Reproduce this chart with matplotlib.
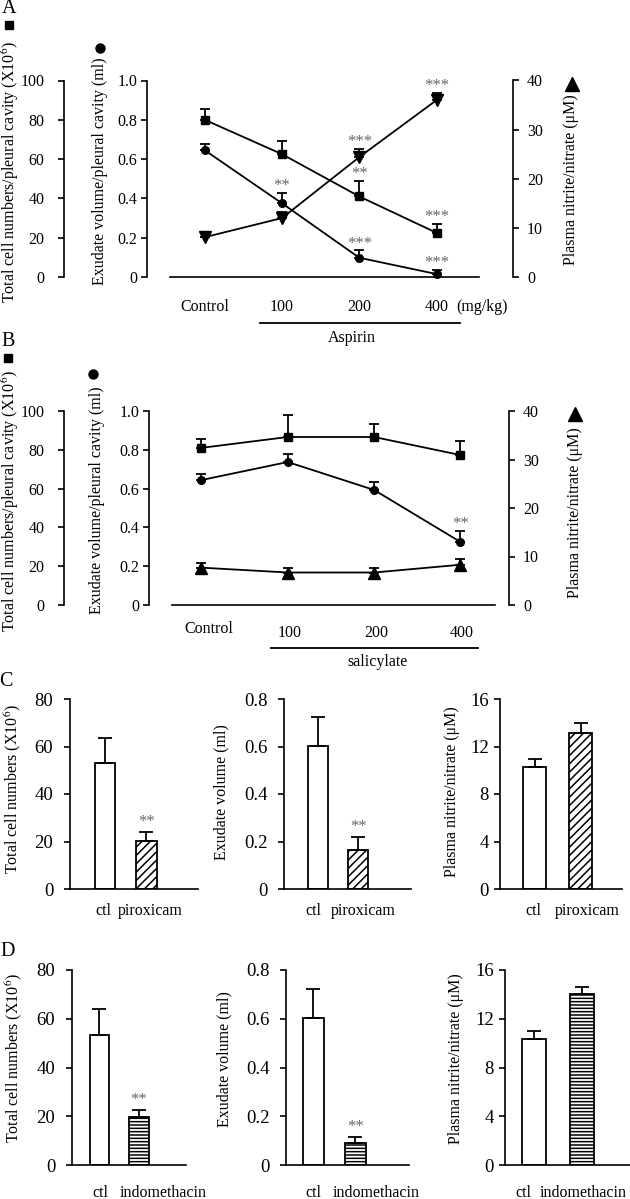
import matplotlib
matplotlib.use('Agg')
import matplotlib.pyplot as plt
from matplotlib.lines import Line2D
import numpy as np

plt.rcParams['font.family'] = ['Liberation Serif', 'DejaVu Serif']
plt.rcParams['mathtext.fontset'] = 'stix'
plt.rcParams['hatch.linewidth'] = 1.1

# ---------------- data ----------------
dose_labels = ['Control', '100', '200', '400']
dose_x = [0, 1, 2, 3]

# Panel A (aspirin)
A_cells = [80.0, 62.5, 41.0, 22.5]
A_cells_err = [5.5, 6.5, 8.0, 4.5]
A_cells_sig = ['', '', '**', '***']
A_exu = [0.645, 0.375, 0.098, 0.015]
A_exu_err = [0.03, 0.055, 0.037, 0.02]
A_exu_sig = ['', '**', '***', '***']
A_no = [8.1, 12.0, 24.4, 36.0]
A_no_err = [0.0, 1.3, 1.7, 1.4]
A_no_sig = ['', '', '***', '***']

# Panel B (salicylate)
B_cells = [81.0, 86.6, 86.6, 77.3]
B_cells_err = [4.6, 11.4, 6.7, 7.2]
B_cells_sig = ['', '', '', '']
B_exu = [0.644, 0.737, 0.593, 0.325]
B_exu_err = [0.031, 0.041, 0.041, 0.056]
B_exu_sig = ['', '', '', '**']
B_no = [7.7, 6.7, 6.7, 8.3]
B_no_err = [1.0, 1.0, 1.0, 1.2]
B_no_sig = ['', '', '', '']

cells_ticks = [0, 20, 40, 60, 80, 100]
exu_ticks = [0, 0.2, 0.4, 0.6, 0.8, 1.0]
exu_ticklabels = ['0', '0.2', '0.4', '0.6', '0.8', '1.0']
no_ticks = [0, 10, 20, 30, 40]

# Panels C (piroxicam) and D (indomethacin)
C_groups = ['ctl', 'piroxicam']
D_groups = ['ctl', 'indomethacin']
C_cells = [53.0, 20.2]
C_cells_err = [10.6, 3.8]
C_exu = [0.602, 0.164]
C_exu_err = [0.122, 0.055]
C_no = [10.27, 13.14]
C_no_err = [0.68, 0.84]
D_cells = [53.3, 19.7]
D_cells_err = [10.7, 2.9]
D_exu = [0.603, 0.09]
D_exu_err = [0.119, 0.025]
D_no = [10.34, 14.03]
D_no_err = [0.66, 0.57]
bar_sig_cells = ['', '**']
bar_sig_exu = ['', '**']
bar_sig_no = ['', '']

bar_cells_ticks = [0, 20, 40, 60, 80]
bar_exu_ticks = [0, 0.2, 0.4, 0.6, 0.8]
bar_exu_ticklabels = ['0', '0.2', '0.4', '0.6', '0.8']
bar_no_ticks = [0, 4, 8, 12, 16]

# ---------------- layout helpers ----------------
W, H = 630, 1199
fig = plt.figure(figsize=(W / 100, H / 100), dpi=100)


def rect(x0, x1, ytop, ybot):
    return [x0 / W, 1 - ybot / H, (x1 - x0) / W, (ybot - ytop) / H]


def fx(x):
    return x / W


def fy(y):
    return 1 - y / H


def ftext(x, y, s, **kw):
    fig.text(fx(x), fy(y), s, **kw)


def fmarker(x, y, m, ms):
    fig.add_artist(Line2D([fx(x)], [fy(y)], marker=m, ms=ms, color='k',
                          transform=fig.transFigure, linestyle='none'))


LW = 1.2
SIG_COLOR = '#666666'
SIG_SIZE = 12
LABEL_SIZE = 11.5


def spine_axis(ax, side, pos, ylim, ticks, labels, pad, labelsize=11.5):
    for s in ax.spines.values():
        s.set_visible(False)
    ax.spines[side].set_visible(True)
    ax.spines[side].set_position(('axes', pos))
    ax.spines[side].set_linewidth(LW)
    ax.set_ylim(*ylim)
    ax.set_yticks(ticks, labels)
    if side == 'right':
        ax.yaxis.tick_right()
    else:
        ax.yaxis.tick_left()
    ax.tick_params(axis='y', direction='out', length=4, width=LW, pad=pad,
                   labelsize=labelsize)
    ax.set_xticks([])
    ax.patch.set_visible(False)


def draw_series(ax, vals, errs, sigs, marker, ms):
    lo = np.zeros(len(vals))
    ax.errorbar(dose_x, vals, yerr=[lo, errs], fmt='-', marker=marker, ms=ms,
                color='k', lw=1.3, elinewidth=1.3, capsize=3.6, capthick=1.3,
                clip_on=False)
    for x, v, e, s in zip(dose_x, vals, errs, sigs):
        if s:
            ax.annotate(s, xy=(x, v + e), xytext=(0, 5), textcoords='offset points',
                        ha='center', va='center', color=SIG_COLOR, fontsize=SIG_SIZE)


def line_panel(r, xlim, pos_cells, pos_exu, pos_no, cells, ce, cs, exu, ee, es,
               no, ne, ns, no_marker):
    ax_c = fig.add_axes(r)
    ax_e = fig.add_axes(r)
    ax_n = fig.add_axes(r)
    spine_axis(ax_c, 'left', pos_cells, (0, 100), cells_ticks,
               [str(t) for t in cells_ticks], pad=10)
    ax_c.spines['bottom'].set_visible(True)
    ax_c.spines['bottom'].set_linewidth(LW)
    spine_axis(ax_e, 'left', pos_exu, (0, 1.0), exu_ticks, exu_ticklabels, pad=3)
    spine_axis(ax_n, 'right', pos_no, (0, 40), no_ticks,
               [str(t) for t in no_ticks], pad=6)
    for a in (ax_c, ax_e, ax_n):
        a.set_xlim(*xlim)
    draw_series(ax_c, cells, ce, cs, 's', 5.5)
    draw_series(ax_e, exu, ee, es, 'o', 5.5)
    draw_series(ax_n, no, ne, ns, no_marker, 8)
    return ax_c


# ---------------- Panel A ----------------
axA = line_panel(rect(170, 479, 80.5, 277), (-0.45, 3.55),
                 (64 - 170) / 309, (147 - 170) / 309, (513 - 170) / 309,
                 A_cells, A_cells_err, A_cells_sig, A_exu, A_exu_err, A_exu_sig,
                 A_no, A_no_err, A_no_sig, 'v')
tA = axA.get_xaxis_transform()
for x, lab in zip(dose_x, dose_labels):
    axA.text(x, -0.155, lab, transform=tA, ha='center', va='center', fontsize=LABEL_SIZE)
axA.text(3.25, -0.155, '(mg/kg)', transform=tA, ha='left', va='center', fontsize=LABEL_SIZE)
axA.plot([0.72, 3.3], [-0.235, -0.235], transform=tA, color='k', lw=1.3, clip_on=False)
axA.text(1.9, -0.31, 'Aspirin', transform=tA, ha='center', va='center', fontsize=LABEL_SIZE)

ftext(9, 8.5, 'A', fontsize=14.5, ha='center', va='center')
fmarker(8.5, 24.5, 's', 6)
fmarker(100, 48, 'o', 6.5)
fmarker(572, 84, '^', 10)
ftext(10, 172, 'Total cell numbers/pleural cavity (X10$^6$)', rotation=90,
      ha='center', va='center', fontsize=LABEL_SIZE)
ftext(100, 171, 'Exudate volume/pleural cavity (ml)', rotation=90,
      ha='center', va='center', fontsize=LABEL_SIZE)
ftext(571, 180, 'Plasma nitrite/nitrate (\u03bcM)', rotation=90,
      ha='center', va='center', fontsize=LABEL_SIZE)

# ---------------- Panel B ----------------
axB = line_panel(rect(172, 495, 411, 605), (-0.34, 3.4),
                 (64 - 172) / 323, (149 - 172) / 323, (509 - 172) / 323,
                 B_cells, B_cells_err, B_cells_sig, B_exu, B_exu_err, B_exu_sig,
                 B_no, B_no_err, B_no_sig, '^')
tB = axB.get_xaxis_transform()
axB.text(0.09, -0.124, dose_labels[0], transform=tB, ha='center', va='center', fontsize=LABEL_SIZE)
for x, lab in zip(dose_x[1:], dose_labels[1:]):
    axB.text(x + 0.02, -0.145, lab, transform=tB, ha='center', va='center', fontsize=LABEL_SIZE)
axB.plot([0.81, 3.2], [-0.222, -0.222], transform=tB, color='k', lw=1.3, clip_on=False)
axB.text(2.04, -0.294, 'salicylate', transform=tB, ha='center', va='center', fontsize=LABEL_SIZE)

ftext(8, 341, 'B', fontsize=14.5, ha='center', va='center')
fmarker(8, 358, 's', 6)
fmarker(93, 374, 'o', 6.5)
fmarker(575, 414, '^', 10)
ftext(10, 501, 'Total cell numbers/pleural cavity (X10$^6$)', rotation=90,
      ha='center', va='center', fontsize=LABEL_SIZE)
ftext(97, 500, 'Exudate volume/pleural cavity (ml)', rotation=90,
      ha='center', va='center', fontsize=LABEL_SIZE)
ftext(575, 513, 'Plasma nitrite/nitrate (\u03bcM)', rotation=90,
      ha='center', va='center', fontsize=LABEL_SIZE)


# ---------------- bar panels ----------------
def bar_panel(r, xlim, vals, errs, sigs, ylim, ticks, ticklabels, hatch, groups,
              label_xs, label_dy, pad):
    ax = fig.add_axes(r)
    pos = [1, 2]
    ax.bar(pos, vals, width=0.5, color='white', edgecolor='k', linewidth=1.3,
           hatch=['', hatch], zorder=2)
    lo = np.zeros(len(vals))
    ax.errorbar(pos, vals, yerr=[lo, errs], fmt='none', ecolor='k', elinewidth=1.3,
                capsize=4.8, capthick=1.3, zorder=3)
    for x, v, e, s in zip(pos, vals, errs, sigs):
        if s:
            ax.annotate(s, xy=(x, v + e), xytext=(0, 7), textcoords='offset points',
                        ha='center', va='center', color=SIG_COLOR, fontsize=SIG_SIZE)
    ax.set_xlim(*xlim)
    ax.set_ylim(*ylim)
    ax.set_yticks(ticks, ticklabels)
    ax.set_xticks([])
    for s in ('top', 'right'):
        ax.spines[s].set_visible(False)
    for s in ('left', 'bottom'):
        ax.spines[s].set_linewidth(LW)
    ax.tick_params(axis='y', direction='out', length=4, width=LW, pad=pad, labelsize=13.5)
    t = ax.get_xaxis_transform()
    for x, g in zip(label_xs, groups):
        ax.annotate(g, xy=(x, 0), xycoords=t, xytext=(0, label_dy),
                    textcoords='offset points', ha='center', va='center',
                    fontsize=LABEL_SIZE)
    return ax


# Panel C
bar_panel(rect(70, 198, 699, 889), (0.157, 3.25), C_cells, C_cells_err, bar_sig_cells,
          (0, 80), bar_cells_ticks, [str(t) for t in bar_cells_ticks], '////',
          C_groups, [0.96, 2.1], -16, 8)
bar_panel(rect(284, 411, 699, 889), (0.148, 3.31), C_exu, C_exu_err, bar_sig_exu,
          (0, 0.8), bar_exu_ticks, bar_exu_ticklabels, '////',
          C_groups, [0.89, 2.12], -16, 8)
bar_panel(rect(500, 622, 699, 889), (0.24, 2.9), C_no, C_no_err, bar_sig_no,
          (0, 16), bar_no_ticks, [str(t) for t in bar_no_ticks], '////',
          C_groups, [0.97, 2.15], -16, 4)
ftext(6, 682, 'C', fontsize=14.5, ha='center', va='center')
ftext(13, 789, 'Total cell numbers (X10$^6$)', rotation=90, ha='center', va='center', fontsize=LABEL_SIZE)
ftext(221, 792, 'Exudate volume (ml)', rotation=90, ha='center', va='center', fontsize=LABEL_SIZE)
ftext(452, 792, 'Plasma nitrite/nitrate (\u03bcM)', rotation=90, ha='center', va='center', fontsize=LABEL_SIZE)

# Panel D
bar_panel(rect(72, 186, 970, 1165), (0.304, 3.19), D_cells, D_cells_err, bar_sig_cells,
          (0, 80), bar_cells_ticks, [str(t) for t in bar_cells_ticks], '-----',
          D_groups, [1.01, 2.6], -20, 8)
bar_panel(rect(286, 409, 970, 1165), (0.35, 3.28), D_exu, D_exu_err, bar_sig_exu,
          (0, 0.8), bar_exu_ticks, bar_exu_ticklabels, '-----',
          D_groups, [1.0, 2.5], -20, 8)
bar_panel(rect(505, 630, 970, 1165), (0.396, 3.0), D_no, D_no_err, bar_sig_no,
          (0, 16), bar_no_ticks, [str(t) for t in bar_no_ticks], '-----',
          D_groups, [0.78, 2.03], -20, 4)
ftext(8, 952, 'D', fontsize=14.5, ha='center', va='center')
ftext(14, 1058, 'Total cell numbers (X10$^6$)', rotation=90, ha='center', va='center', fontsize=LABEL_SIZE)
ftext(224, 1059, 'Exudate volume (ml)', rotation=90, ha='center', va='center', fontsize=LABEL_SIZE)
ftext(456, 1059, 'Plasma nitrite/nitrate (\u03bcM)', rotation=90, ha='center', va='center', fontsize=LABEL_SIZE)

fig.savefig('out.png', dpi=100)
